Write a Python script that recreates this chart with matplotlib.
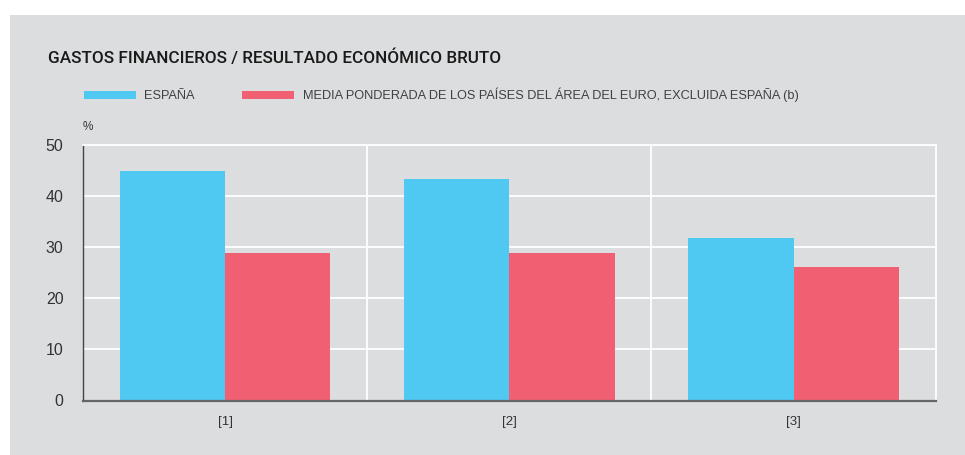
import matplotlib.pyplot as plt
import numpy as np

categories = ["[1]", "[2]", "[3]"]
espana = [44.9, 43.3, 31.8]
media_euro = [28.8, 28.9, 26.1]
labels = ["ESPAÑA", "MEDIA PONDERADA DE LOS PAÍSES DEL ÁREA DEL EURO, EXCLUIDA ESPAÑA (b)"]

BG = "#DCDDDF"
BLUE = "#4FC8F2"
RED = "#F15F72"
TXT = "#333333"

plt.rcParams["font.family"] = ["Liberation Sans", "DejaVu Sans"]

fig = plt.figure(figsize=(9.65, 4.55), dpi=100)
fig.patch.set_facecolor("white")
# gray panel behind everything
fig.patches.append(plt.Rectangle((10 / 965, 0), 1, 1 - 15 / 455, transform=fig.transFigure,
                                 facecolor=BG, edgecolor="none", zorder=-10))

ax = fig.add_axes([83 / 965, 1 - 400.5 / 455, (935.7 - 83) / 965, (400.5 - 145) / 455])
ax.set_facecolor(BG)

x = np.arange(len(categories))
w = 0.37
ax.bar(x - w / 2, espana, w, color=BLUE, label=labels[0], zorder=3)
ax.bar(x + w / 2, media_euro, w, color=RED, label=labels[1], zorder=3)

ax.set_xlim(-0.5, len(categories) - 0.5)
ax.set_ylim(0, 50)
ax.set_yticks(range(0, 51, 10))
ax.set_xticks(x)
ax.set_xticklabels(categories)

ax.set_xticks([0.5, 1.5], minor=True)
ax.grid(axis="y", color="white", linewidth=1.3, zorder=1)
ax.grid(axis="x", which="minor", color="white", linewidth=1.3, zorder=1)
ax.tick_params(axis="x", which="both", length=0, labelsize=9.5, colors=TXT, pad=11)
ax.tick_params(axis="y", length=0, labelsize=11.5, colors=TXT, pad=14)

ax.spines["top"].set_color("white")
ax.spines["top"].set_linewidth(1.3)
ax.spines["right"].set_color("white")
ax.spines["right"].set_linewidth(1.3)
ax.spines["left"].set_color("#444444")
ax.spines["left"].set_linewidth(1.0)
ax.spines["bottom"].set_color("#666666")
ax.spines["bottom"].set_linewidth(1.6)
ax.spines["bottom"].set_zorder(4)

fig.text(48 / 965, 1 - 58 / 455, "GASTOS FINANCIEROS / RESULTADO ECONÓMICO BRUTO",
         fontsize=12.3, color="#1a1a1a", va="center", ha="left",
         family=["Roboto", "Liberation Sans"], fontweight="medium")
fig.text(83 / 965, 1 - 127 / 455, "%", fontsize=8.5, color=TXT, va="center", ha="left")

fig.legend(loc="center left", bbox_to_anchor=(84 / 965, 1 - 95 / 455), ncol=2,
           frameon=False, fontsize=9.2, handlelength=4.07, handleheight=0.55,
           handletextpad=0.63, columnspacing=3.75, labelcolor="#404040",
           borderaxespad=0, borderpad=0)

fig.savefig("out.png", dpi=100, facecolor="white")
